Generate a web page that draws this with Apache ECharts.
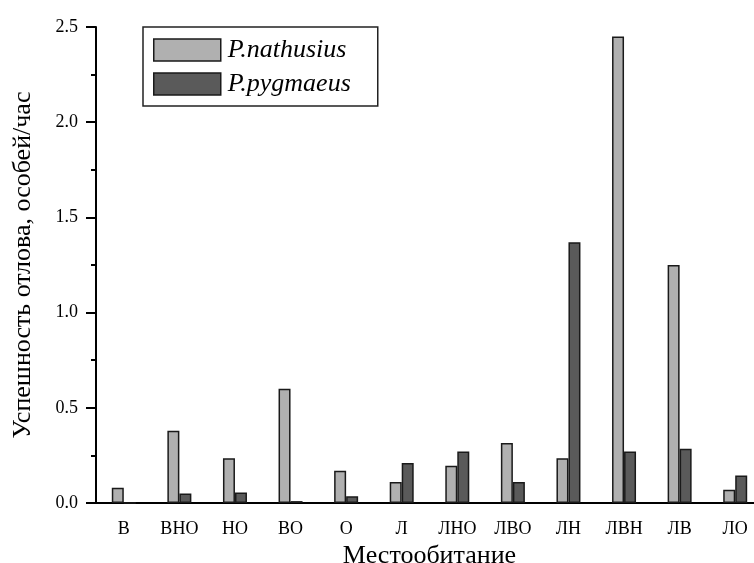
<!DOCTYPE html>
<html>
<head>
<meta charset="utf-8">
<script src="https://cdn.jsdelivr.net/npm/echarts@6/dist/echarts.min.js"></script>
<style>
  html, body { margin: 0; padding: 0; background: #fff; }
  #chart { width: 754px; height: 563px; }
</style>
</head>
<body>
<div id="chart"></div>
<script>
// habitat categories
const habitats = ["В", "ВНО", "НО", "ВО", "О", "Л", "ЛНО", "ЛВО", "ЛН", "ЛВН", "ЛВ", "ЛО"];
// catch success, individuals per hour
const nathusius = [0.08, 0.38, 0.235, 0.6, 0.17, 0.11, 0.195, 0.315, 0.235, 2.45, 1.25, 0.07];
const pygmaeus = [0, 0.05, 0.055, 0.01, 0.035, 0.21, 0.27, 0.11, 1.37, 0.27, 0.285, 0.145];

const font = "'Liberation Serif', 'Times New Roman', serif";

const chart = echarts.init(document.getElementById("chart"));

const option = {
  animation: false,
  grid: { left: 96, top: 27, bottom: 60, width: 667, outerBoundsMode: "none" },
  legend: {
    left: 143,
    top: 27,
    orient: "vertical",
    icon: "rect",
    padding: [10, 27, 9, 10],
    itemGap: 8,
    itemWidth: 67,
    itemHeight: 22,
    borderColor: "#222",
    borderWidth: 1.5,
    itemStyle: { borderColor: "#1a1a1a", borderWidth: 1.5 },
    textStyle: { fontFamily: font, fontStyle: "italic", fontSize: 26, lineHeight: 22, color: "#000", padding: [0, 0, 0, 2] },
    data: ["P.nathusius", "P.pygmaeus"],
  },
  xAxis: {
    type: "category",
    data: habitats,
    name: "Местообитание",
    nameLocation: "middle",
    nameGap: 36,
    nameTextStyle: { fontFamily: font, fontSize: 26, color: "#000" },
    axisLine: { lineStyle: { color: "#000", width: 2 } },
    axisTick: { alignWithLabel: true, length: 9, lineStyle: { width: 2 } },
    axisLabel: { fontFamily: font, fontSize: 18, color: "#000", margin: 17 },
  },
  yAxis: {
    type: "value",
    min: 0,
    max: 2.5,
    interval: 0.5,
    name: "Успешность отлова, особей/час",
    nameLocation: "middle",
    nameGap: 60,
    nameTextStyle: { fontFamily: font, fontSize: 26, color: "#000" },
    axisLine: { show: true, lineStyle: { color: "#000", width: 2 } },
    axisTick: { show: true, length: 10, lineStyle: { width: 2 } },
    minorTick: { show: true, splitNumber: 2, length: 5, lineStyle: { color: "#000", width: 2 } },
    splitLine: { show: false },
    axisLabel: {
      fontFamily: font, fontSize: 18, color: "#000", margin: 18,
      formatter: (v) => v.toFixed(1),
    },
  },
  series: [
    {
      name: "P.nathusius",
      type: "bar",
      data: nathusius,
      barWidth: 12,
      barGap: "0%",
      itemStyle: { color: "#b0b0b0", borderColor: "#1a1a1a", borderWidth: 1.5 },
    },
    {
      name: "P.pygmaeus",
      type: "bar",
      data: pygmaeus,
      barWidth: 12,
      barGap: "0%",
      itemStyle: { color: "#5a5a5a", borderColor: "#1a1a1a", borderWidth: 1.5 },
    },
  ],
};

chart.setOption(option);
</script>
</body>
</html>
